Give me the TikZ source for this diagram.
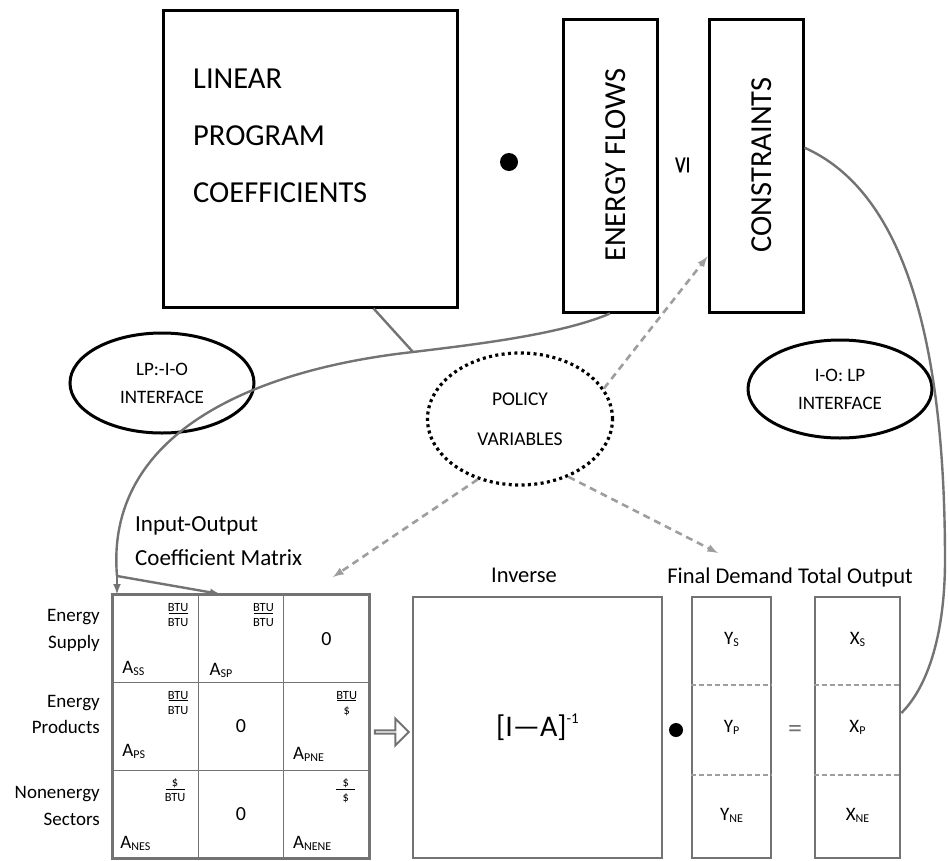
\documentclass[tikz,border=0pt]{standalone}
\usepackage{fontspec}
\setmainfont{Carlito}
\newfontfamily\dejavu{DejaVu Sans}
\usetikzlibrary{arrows,shapes.geometric,shapes.arrows,calc}
\definecolor{linegray}{gray}{0.45}
\definecolor{dashgray}{gray}{0.62}
\newcommand{\fsz}[1]{\fontsize{#1}{#1}\selectfont}
\newcommand{\sub}[1]{{\fsz{12}\raisebox{-2pt}{#1}}}
\newcommand{\ufrac}[2]{\underline{\makebox[19pt]{#1}}\\#2}

\begin{document}
\begin{tikzpicture}[
                  x = 1pt,
                  y = -1pt,
      topbox/.style = {draw, line width=3pt, minimum width=94, minimum height=293, inner sep=0},
    bigtext/.style = {font=\fontsize{30.5}{30.5}\selectfont, inner sep=0},
       oval/.style = {ellipse, draw, line width=3pt, inner sep=0, align=center,
                      font=\fontsize{19}{28}\selectfont},
   mulpoint/.style = {circle, fill, inner sep=0, minimum size=18},
    cellbox/.style = {draw=linegray, line width=1.6pt, minimum width=85.33, minimum height=87.67, inner sep=0},
     colbox/.style = {draw=linegray, line width=2.6pt, minimum height=261, inner sep=0},
   rowlabel/.style = {font=\fontsize{19}{19}\selectfont, inner sep=0, anchor=base east},
  celllabel/.style = {font=\fontsize{19}{19}\selectfont, inner sep=0, anchor=base west},
   unitfrac/.style = {font=\fontsize{12.5}{15}\selectfont, inner sep=0, align=center, anchor=north},
    caption/.style = {font=\fontsize{22.5}{22.5}\selectfont, inner sep=0},
   divider/.style = {draw=dashgray, line width=2pt, dash pattern=on 5pt off 3pt},
   linkline/.style = {draw=linegray, line width=2.4pt},
 policyline/.style = {draw=dashgray, line width=2.6pt, dash pattern=on 7pt off 5pt, -latex},
                     ]
\useasboundingbox (0,0) rectangle (948,860);

% linear program row
\node[topbox, minimum width=294, minimum height=297] (lpc) at (310,158.5) {};
\foreach \w [count=\i] in {LINEAR,PROGRAM,COEFFICIENTS}
    \node[bigtext, anchor=base west] (lpc-\i) at (193,{31+57*\i}) {\w};
\node[mulpoint] (dot1) at (509,162) {};
\node[topbox] (flows) at (610,165.5) {};
\node[bigtext, rotate=90] (flows-t) at (616,165) {ENERGY FLOWS};
\node[font=\dejavu\fontsize{24}{24}\selectfont, rotate=90, inner sep=0] (leq) at (683,165) {≤};
\node[topbox] (cons) at (756,165.5) {};
\node[bigtext, rotate=90] (cons-t) at (762,165) {CONSTRAINTS};

% interfaces
\node[oval, minimum width=184, minimum height=100] (lpio) at (162,383) {LP:-I-O\\INTERFACE};
\node[oval, minimum width=184, minimum height=98] (iolp) at (840,389) {I-O: LP\\INTERFACE};
\node[oval, minimum width=185, minimum height=132, line width=3.2pt, dash pattern=on 3pt off 3.4pt,
      font=\fontsize{19.5}{40}\selectfont] (policy) at (520,419) {POLICY\\VARIABLES};

% input-output matrix
\node[font=\fontsize{23}{23}\selectfont, inner sep=0, anchor=base west] (io-1) at (135,531) {Input-Output};
\node[font=\fontsize{23}{23}\selectfont, inner sep=0, anchor=base west] (io-2) at (135,565) {Coefficient Matrix};
\foreach \t/\y [count=\i] in {Energy/621,Supply/648,Energy/707,Products/733,Nonenergy/798,Sectors/825}
    \node[rowlabel] (row-\i) at (100,\y) {\t};
\foreach \r in {1,2,3}
    \foreach \c in {1,2,3}
        \node[cellbox] (m-\r-\c) at ({113+85.33*(\c-0.5)},{595+87.67*(\r-0.5)}) {};
\draw[draw=linegray, line width=3pt] (m-1-1.north west) rectangle (m-3-3.south east);
\foreach \r/\c/\s/\dx/\dy in {1/1/SS/10/10,1/2/SP/12/8,2/1/PS/10/15,2/3/PNE/10/12,3/1/NES/8/10,3/3/NENE/10/10}
    \node[celllabel, xshift=\dx pt, yshift=\dy pt] (a-\r-\c) at (m-\r-\c.south west) {A\sub{\s}};
\foreach \r/\c/\n/\d/\dx in {1/1/BTU/BTU/21,1/2/BTU/BTU/21,2/1/BTU/BTU/21,2/3/BTU/\$/23,3/1/\$/BTU/24,3/3/\$/\$/24}
    \node[unitfrac, xshift=-\dx pt, yshift=-9pt] (u-\r-\c) at (m-\r-\c.north east) {\ufrac{\n}{\d}};
\foreach \r/\c in {1/3,2/2,3/2}
    \node[font=\fontsize{20}{20}\selectfont] (z-\r-\c) at (m-\r-\c) {0};

\node[single arrow, draw=linegray, line width=2pt, minimum height=34, minimum width=27,
      single arrow head extend=7.5pt, inner sep=0] (impl) at (391,732) {};

% inverse, final demand, total output
\node[colbox, minimum width=249, font=\fontsize{30}{30}\selectfont] (inv) at (537.5,727.5)
    {[I—A]\raisebox{13pt}{\fontsize{15}{15}\selectfont -1}};
\node[caption] (inv-t) at (524,575) {Inverse};
\node[mulpoint, minimum size=14] (dot2) at (676,730) {};
\node[colbox, minimum width=79] (ycol) at (731.5,727.5) {};
\node[font=\fontsize{28}{28}\selectfont, text=linegray] (eq) at (795,731) {=};
\node[colbox, minimum width=85] (xcol) at (857.5,727.5) {};
\node[caption] (fd-t) at (790,577) {Final Demand Total Output};
\foreach \f in {0.34,0.68} {
    \draw[divider] ($(ycol.north west)!\f!(ycol.south west)$) -- ($(ycol.north east)!\f!(ycol.south east)$);
    \draw[divider] ($(xcol.north west)!\f!(xcol.south west)$) -- ($(xcol.north east)!\f!(xcol.south east)$);
}
\foreach \s [count=\i, evaluate=\i as \f using (2*\i-1)/6] in {S,P,NE} {
    \node[font=\fontsize{19}{19}\selectfont] (y-\i) at ($(ycol.north)!\f!(ycol.south)$) {Y\sub{\s}};
    \node[font=\fontsize{19}{19}\selectfont] (x-\i) at ($(xcol.north)!\f!(xcol.south)$) {X\sub{\s}};
}

% connectors
\coordinate (lpc-out) at ($(lpc.south west)!0.714!(lpc.south east)$);
\coordinate (jn) at (413,352);
\coordinate (split) at (117,576);
\coordinate (mat-in) at (220,594);
\coordinate (cons-out) at ($(cons.north east)!0.44!(cons.south east)$);
\coordinate (xcol-in) at ($(xcol.north east)!0.445!(xcol.south east)$);
\coordinate (cons-in) at ($(cons.south west)+(0,-57)$);
\coordinate (pol-in) at (333,577);
\coordinate (fd-in) at (718,553);
\draw[linkline] (lpc-out) -- (jn);
\draw[linkline] (flows.south) .. controls (560,335) and (470,345) .. (jn)
    .. controls (250,370) and (105,435) .. (split);
\draw[linkline, -latex] (split) -- (split |- m-1-1.north);
\draw[linkline, -latex] (split) -- (mat-in);
\draw[linkline] (cons-out) .. controls (900,190) and (945,330) .. (945,560)
    .. controls (945,640) and (925,690) .. (xcol-in);
\draw[policyline] (policy.20) -- (cons-in);
\draw[policyline] (policy.235) -- (pol-in);
\draw[policyline] (policy.-50) -- (fd-in);
\end{tikzpicture}
\end{document}
